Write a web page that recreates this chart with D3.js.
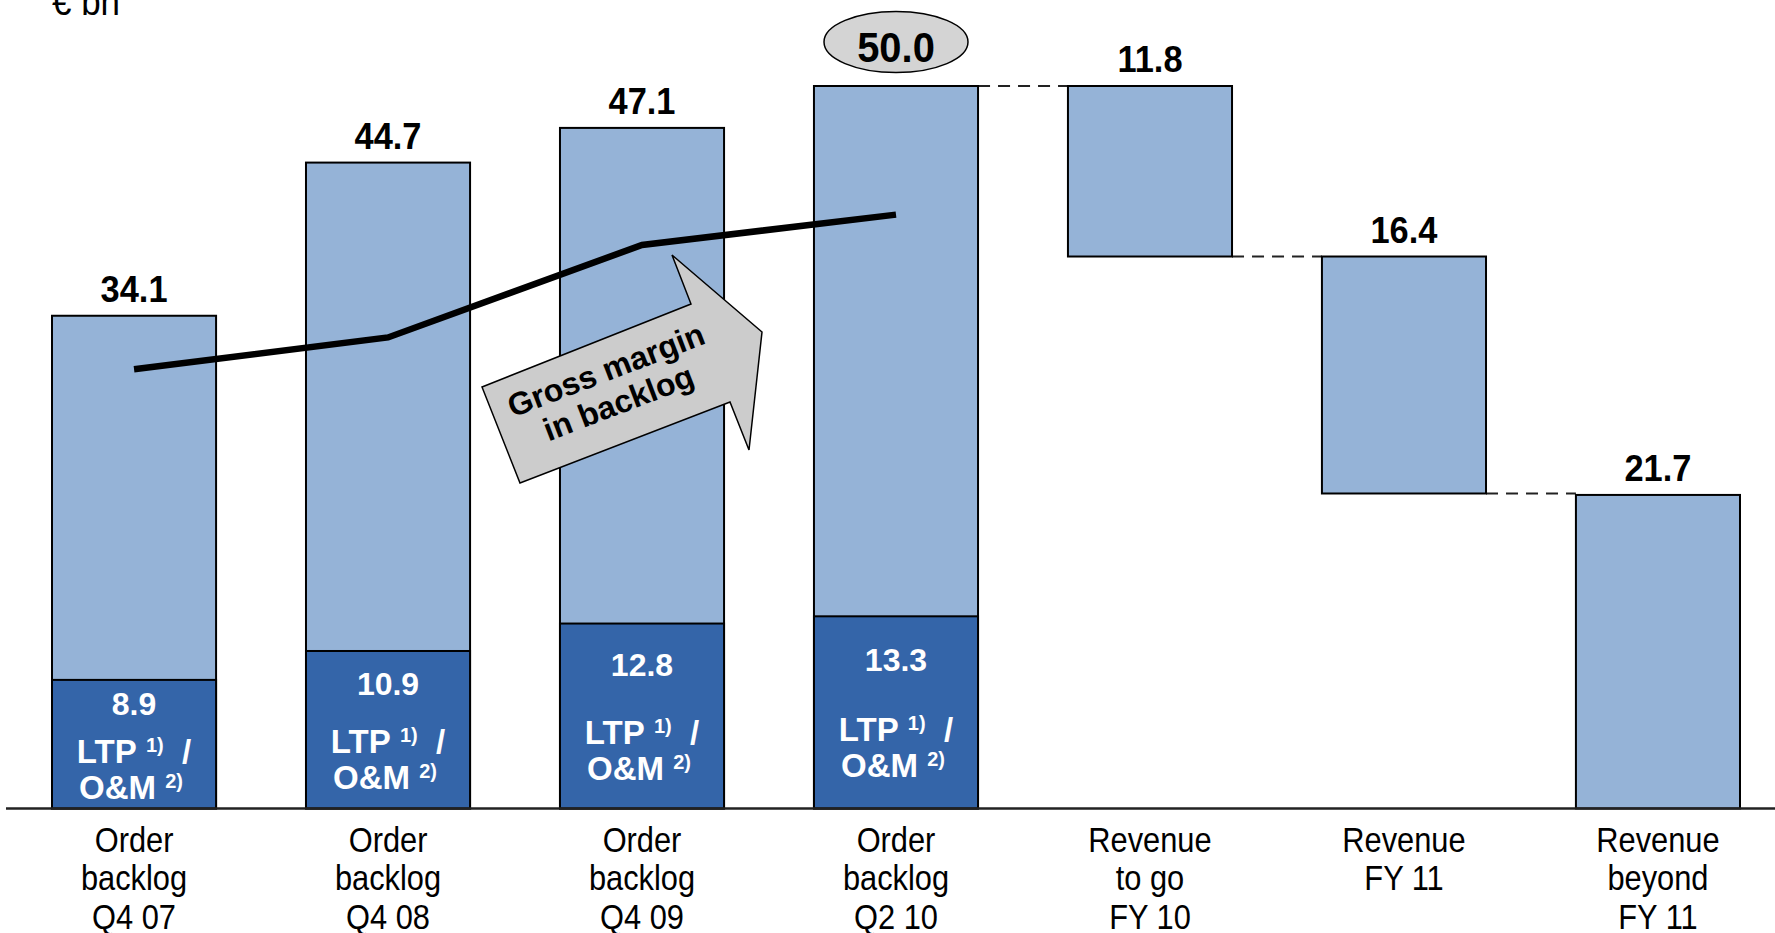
<!DOCTYPE html>
<html>
<head>
<meta charset="utf-8">
<script src="https://cdn.jsdelivr.net/npm/d3@7"></script>
<style>
body{margin:0;background:#fff;}
svg{display:block;font-family:"Liberation Sans",Arial,sans-serif;}
</style>
</head>
<body>
<svg id="chart" width="1775" height="933"></svg>
<script>
var unitLabel = "€ bn";
var categories = [
	["Order","backlog","Q4 07"],
	["Order","backlog","Q4 08"],
	["Order","backlog","Q4 09"],
	["Order","backlog","Q2 10"],
	["Revenue","to go","FY 10"],
	["Revenue","FY 11"],
	["Revenue","beyond","FY 11"]
];
var backlogTotals = [34.1, 44.7, 47.1, 50.0];
var ltpOmValues = [8.9, 10.9, 12.8, 13.3];
var revenueSplit = [11.8, 16.4, 21.7];
// gross margin in backlog, no axis of its own: read off on the bar scale
var grossMarginTrend = [30.4, 32.6, 39.0, 41.1];

var lightBlue = "#95b3d7", darkBlue = "#3465a9";

// build the waterfall rows
var bars = backlogTotals.map(function(v,i)
{
	return {i:i, y0:0, y1:v, label:v, ltp:ltpOmValues[i]};
});
var level = backlogTotals[backlogTotals.length-1];
revenueSplit.forEach(function(v,j)
{
	var last = j == revenueSplit.length-1;
	bars.push({i:backlogTotals.length+j, y0:last ? 0 : level-v, y1:last ? v : level, label:v});
	level = level-v;
});

var svg = d3.select("#chart");

var x = d3.scaleBand()
	.domain(d3.range(categories.length))
	.range([52,1740])
	.paddingInner(0.354)
	.paddingOuter(0);
var y = d3.scaleLinear().domain([0,50]).range([808.5,86]);
var bw = x.bandwidth();
function cx(i){ return x(i)+bw/2; }

// dashed connectors between the waterfall steps
var links = [];
for (var k=backlogTotals.length-1; k<bars.length-1; k++)
{
	links.push({from:k, v:k==backlogTotals.length-1 ? bars[k].y1 : bars[k].y0});
}
svg.selectAll("line.link").data(links).enter().append("line")
	.classed("link",1)
	.attr("x1",function(d){ return x(d.from)+bw; })
	.attr("x2",function(d){ return x(d.from+1); })
	.attr("y1",function(d){ return y(d.v); })
	.attr("y2",function(d){ return y(d.v); })
	.attr("stroke","#222")
	.attr("stroke-width",2)
	.attr("stroke-dasharray","12,8");

svg.selectAll("rect.total").data(bars).enter().append("rect")
	.classed("total",1)
	.attr("x",function(d){ return x(d.i); })
	.attr("y",function(d){ return y(d.y1); })
	.attr("width",bw)
	.attr("height",function(d){ return y(d.y0)-y(d.y1); })
	.attr("fill",lightBlue)
	.attr("stroke","#000")
	.attr("stroke-width",2);

var ltpBars = bars.filter(function(d){ return d.ltp != null; });
svg.selectAll("rect.ltp").data(ltpBars).enter().append("rect")
	.classed("ltp",1)
	.attr("x",function(d){ return x(d.i); })
	.attr("y",function(d){ return y(d.ltp); })
	.attr("width",bw)
	.attr("height",function(d){ return y(0)-y(d.ltp); })
	.attr("fill",darkBlue)
	.attr("stroke","#000")
	.attr("stroke-width",2);

// white labels inside the dark segments
function segTop(d){ return y(d.ltp); }
function segH(d){ return y(0)-y(d.ltp); }
var ltpText = svg.selectAll("g.ltpText").data(ltpBars).enter().append("g")
	.classed("ltpText",1)
	.attr("fill","#fff")
	.attr("font-weight","bold")
	.attr("text-anchor","middle");
ltpText.append("text")
	.attr("font-size",32)
	.attr("x",function(d){ return cx(d.i); })
	.attr("y",function(d){ return segTop(d)+0.3*segH(d)-3; })
	.text(function(d){ return d.ltp.toFixed(1); });
var l1 = ltpText.append("text")
	.attr("font-size",33)
	.attr("x",function(d){ return cx(d.i); })
	.attr("y",function(d){ return segTop(d)+0.66*segH(d)-2; });
l1.append("tspan").text("LTP\u00a0");
l1.append("tspan").attr("font-size",20).attr("dy",-11).text("1)");
l1.append("tspan").attr("dy",11).text("\u00a0\u00a0/");
var l2 = ltpText.append("text")
	.attr("font-size",33)
	.attr("x",function(d){ return cx(d.i)-3; })
	.attr("y",function(d){ return segTop(d)+0.66*segH(d)+34; });
l2.append("tspan").text("O&M\u00a0");
l2.append("tspan").attr("font-size",20).attr("dy",-11).text("2)");

// baseline
svg.append("line")
	.attr("x1",6).attr("x2",1775)
	.attr("y1",y(0)).attr("y2",y(0))
	.attr("stroke","#222")
	.attr("stroke-width",2.5);

// gross margin trend line
svg.append("path")
	.datum(grossMarginTrend)
	.attr("fill","none")
	.attr("stroke","#000")
	.attr("stroke-width",6.5)
	.attr("d",d3.line().x(function(d,i){ return cx(i); }).y(function(d){ return y(d); }));

// block arrow annotation
svg.append("polygon")
	.attr("points","482,387 691,304 672,255 762,332 749,450 730,402 520,483")
	.attr("fill","#cccccc")
	.attr("stroke","#000")
	.attr("stroke-width",1.5);
var arrowText = svg.append("g")
	.attr("transform","translate(612,386) rotate(-21)")
	.attr("font-weight","bold")
	.attr("font-size",32)
	.attr("text-anchor","middle");
arrowText.append("text").attr("y",-6).text("Gross margin");
arrowText.append("text").attr("y",29).text("in backlog");

// value labels above the bars
var lastTotal = backlogTotals.length-1;
svg.selectAll("text.value").data(bars.filter(function(d){ return d.i != lastTotal; })).enter().append("text")
	.classed("value",1)
	.attr("font-weight","bold")
	.attr("font-size",37)
	.attr("text-anchor","middle")
	.attr("transform",function(d){ return "translate("+cx(d.i)+","+(y(d.y1)-14)+") scale(0.93,1)"; })
	.text(function(d){ return d.label.toFixed(1); });

var hl = bars[lastTotal];
svg.append("ellipse")
	.attr("cx",cx(hl.i))
	.attr("cy",y(hl.y1)-44)
	.attr("rx",72)
	.attr("ry",30.5)
	.attr("fill","#d4d4d4")
	.attr("stroke","#000")
	.attr("stroke-width",1.5);
svg.append("text")
	.attr("font-weight","bold")
	.attr("font-size",42)
	.attr("text-anchor","middle")
	.attr("transform","translate("+cx(hl.i)+","+(y(hl.y1)-24.5)+") scale(0.95,1)")
	.text(hl.label.toFixed(1));

// category labels
var cat = svg.selectAll("g.cat").data(categories).enter().append("g").classed("cat",1);
cat.selectAll("text").data(function(d,i){ return d.map(function(s){ return {s:s, i:i}; }); }).enter().append("text")
	.attr("font-size",35)
	.attr("fill","#000")
	.attr("text-anchor","middle")
	.attr("transform",function(d,k){ return "translate("+cx(d.i)+","+(852+k*38.3)+") scale(0.88,1)"; })
	.text(function(d){ return d.s; });

svg.append("text")
	.attr("font-size",38)
	.attr("transform","translate(52,15) scale(0.92,1)")
	.text(unitLabel);
</script>
</body>
</html>
